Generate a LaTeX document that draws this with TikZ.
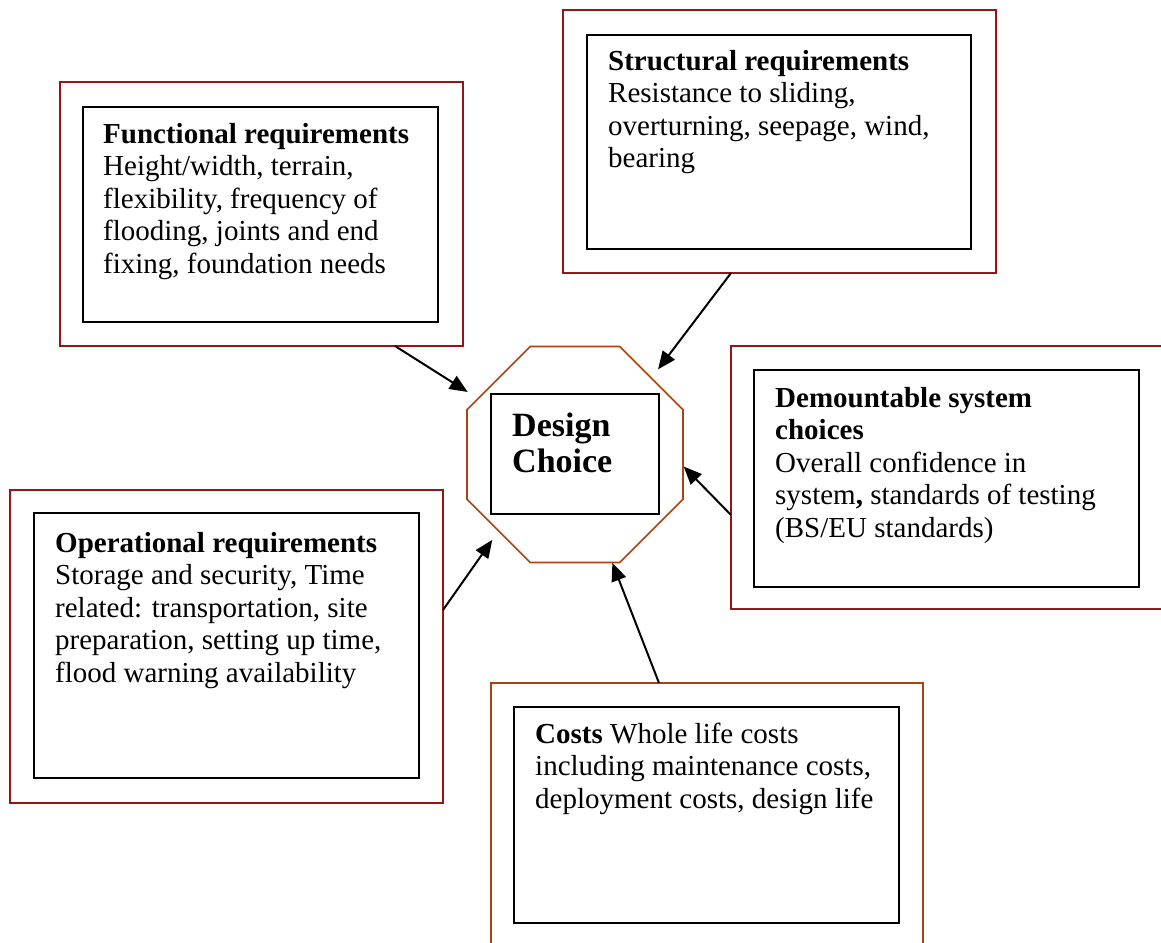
\documentclass[tikz,border=0pt]{standalone}
\usepackage{fontspec}
\setmainfont{Liberation Serif}
\usepackage{tikz}
\usetikzlibrary{arrows.meta,positioning,shapes.geometric}
\definecolor{framered}{RGB}{150,20,20}
\definecolor{framebrown}{RGB}{172,66,16}
\tikzset{
  outerframe/.style={draw=framered, line width=1.6pt, inner sep=0pt, outer sep=0pt},
  costframe/.style={draw=framebrown, line width=1.6pt, inner sep=0pt, outer sep=0pt},
  innerbox/.style={draw=black, line width=1.9pt, inner sep=0pt, outer sep=0pt},
  txt/.style={anchor=base west, align=left, inner sep=0pt, font=\fontsize{29}{32.5}\selectfont},
  bigtxt/.style={anchor=base west, align=left, inner sep=0pt, font=\fontsize{34}{36.5}\selectfont\bfseries},
  octa/.style={draw=framebrown, line width=1.6pt, regular polygon, regular polygon sides=8, minimum size=233.8pt, inner sep=0pt, outer sep=0pt},
  arrow/.style={-{Triangle[length=18pt,width=15pt]}, line width=2pt}
}

\begin{document}
\begin{tikzpicture}[x=1pt, y=-1pt]
\useasboundingbox (0,0) rectangle (1161,942);
\clip (0,0) rectangle (1161,942);
\node[outerframe, minimum width=403pt, minimum height=264pt] (fout) at (261.5,214) {};
\node[innerbox, minimum width=355pt, minimum height=215pt] (fin) at (260.5,214.5) {};
\node[txt] (ftxt) at (103,273) {\textbf{Functional requirements}\\Height/width, terrain,\\flexibility, frequency of\\flooding, joints and end\\fixing, foundation needs};
\node[outerframe, minimum width=433pt, minimum height=263pt] (sout) at (779.5,141.5) {};
\node[innerbox, minimum width=384pt, minimum height=214pt] (sin) at (779,142) {};
\node[txt] (stxt) at (608,167.5) {\textbf{Structural requirements}\\Resistance to sliding,\\overturning, seepage, wind,\\bearing};
\node[outerframe, minimum width=454pt, minimum height=263pt] (dout) at (958,477.5) {};
\node[innerbox, minimum width=385pt, minimum height=217pt] (din) at (946.5,478.5) {};
\node[txt] (dtxt) at (775,537) {\textbf{Demountable system}\\\textbf{choices}\\Overall confidence in\\system\textbf{,} standards of testing\\(BS/EU standards)};
\node[outerframe, minimum width=433pt, minimum height=313pt] (oout) at (226.5,646.5) {};
\node[innerbox, minimum width=385pt, minimum height=265pt] (oin) at (226.5,645.5) {};
\node[txt] (otxt) at (55,682) {\textbf{Operational requirements}\\Storage and security, Time\\related: transportation, site\\preparation, setting up time,\\flood warning availability};
\node[costframe, minimum width=432pt, minimum height=277pt] (cout) at (707,821.5) {};
\node[innerbox, minimum width=385pt, minimum height=216pt] (cin) at (706.5,815) {};
\node[txt] (ctxt) at (535,808) {\textbf{Costs} Whole life costs\\including maintenance costs,\\deployment costs, design life};
\node[octa] (oct) at (575,454.5) {};
\node[innerbox, minimum width=168pt, minimum height=120pt] (dbox) at (575,454) {};
\node[bigtxt] (dchoice) at (512,472.5) {Design\\Choice};
\draw[arrow, shorten >=12.4pt] ([xshift=133.5pt]fout.south) -- (oct.150.3);
\draw[arrow, shorten >=11pt] ([xshift=-48.5pt]sout.south) -- (oct.45.8);
\draw[arrow, shorten >=1pt] ([yshift=-37.5pt]dout.west) -- (oct.-6.5);
\draw[arrow, shorten >=11pt] ([yshift=36.5pt]oout.east) -- (oct.225.2);
\draw[arrow, shorten >=0.5pt] ([xshift=-48pt]cout.north) -- (oct.-71.6);
\end{tikzpicture}
\end{document}
